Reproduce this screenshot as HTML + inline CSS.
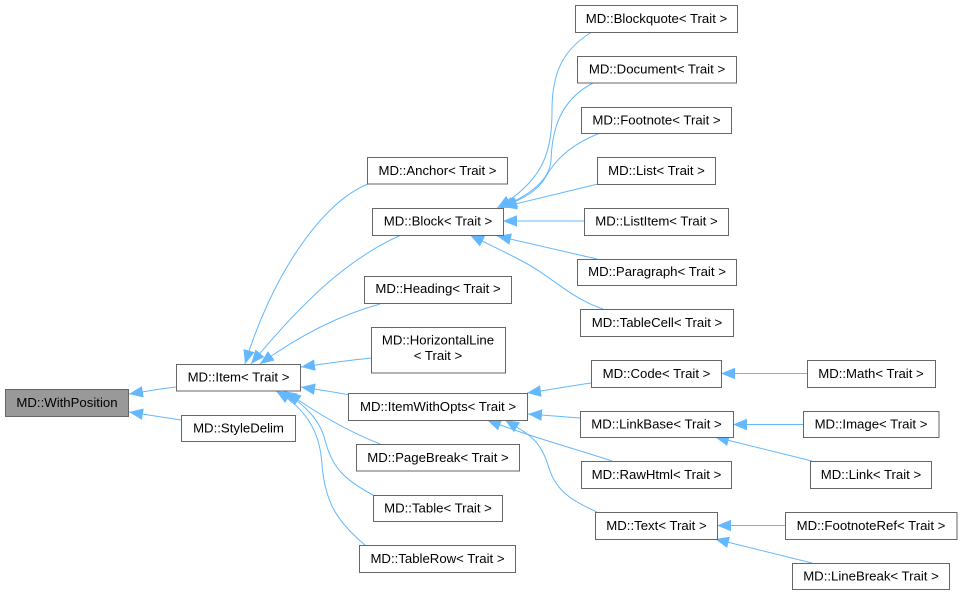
<!DOCTYPE html>
<html><head><meta charset="utf-8"><style>
html,body{margin:0;padding:0;background:#fff;width:961px;height:595px;overflow:hidden}
svg{display:block}
text{font-family:"Liberation Sans",sans-serif;font-size:13.2px;fill:#000;text-anchor:middle}
.b{fill:#fff;stroke:#666;stroke-width:1}
.e{fill:none;stroke:#63b8ff;stroke-width:1;marker-end:url(#a)}
</style></head><body>
<svg width="961" height="595" viewBox="0 0 961 595" xmlns="http://www.w3.org/2000/svg">
<defs><marker id="a" markerUnits="userSpaceOnUse" markerWidth="14" markerHeight="12" viewBox="0 0 14 12" refX="14" refY="6" orient="auto"><path d="M0 0.2L14 6L0 11.8Z" fill="#63b8ff"/></marker></defs>
<path class="e" d="M176 387C165 388 155 390 129 394"/>
<path class="e" d="M181 420L129 412"/>
<path class="e" d="M368 184C320 203 270 280 245 364"/>
<path class="e" d="M401 235C345 260 300 305 251 364"/>
<path class="e" d="M380 304C340 315 300 335 260 364"/>
<path class="e" d="M372 358C350 360 330 363 301 367"/>
<path class="e" d="M350 395C335 392 320 390 301 387"/>
<path class="e" d="M380 444C350 432 320 416 287 392"/>
<path class="e" d="M373 495C345 480 332 468 325 440C320 420 305 405 283 391"/>
<path class="e" d="M365 545C335 520 325 500 322 465C320 430 305 408 276 391"/>
<path class="e" d="M592 32C565 48 552 70 552 110C552 150 545 180 497 208"/>
<path class="e" d="M593 83C560 100 552 130 551 160C550 180 530 195 500 208"/>
<path class="e" d="M600 133C570 145 555 160 545 178C538 190 525 198 503 207"/>
<path class="e" d="M598 184L503 207"/>
<path class="e" d="M584 221L503 221"/>
<path class="e" d="M597 259L497 236"/>
<path class="e" d="M603 309C570 298 550 275 520 260C505 252 490 245 470 235"/>
<path class="e" d="M591 383C570 386 555 389 527 393"/>
<path class="e" d="M580 418L528 414"/>
<path class="e" d="M612 461C570 447 540 440 487 420"/>
<path class="e" d="M597 512C570 500 555 490 548 465C540 440 530 435 505 420"/>
<path class="e" d="M807 373.5L721 373.5"/>
<path class="e" d="M803 424.5L733 424.5"/>
<path class="e" d="M812 461L715 437"/>
<path class="e" d="M785 525.5L717 525.5"/>
<path class="e" d="M812 563L715 539"/>
<rect x="5.500" y="389.500" width="123" height="27" fill="#999" stroke="#666"/><text x="67" y="407">MD::WithPosition</text>
<rect class="b" x="176.500" y="364.500" width="124" height="26.500"/><text x="238.500" y="381.500">MD::Item&lt; Trait &gt;</text>
<rect class="b" x="181.500" y="415.500" width="114" height="26"/><text x="238.500" y="432.500">MD::StyleDelim</text>
<rect class="b" x="367.500" y="157.500" width="140" height="26.500"/><text x="437.500" y="175">MD::Anchor&lt; Trait &gt;</text>
<rect class="b" x="372.500" y="208.500" width="131" height="27"/><text x="438" y="225.500">MD::Block&lt; Trait &gt;</text>
<rect class="b" x="364.500" y="276.500" width="147" height="27"/><text x="438" y="293">MD::Heading&lt; Trait &gt;</text>
<rect class="b" x="371.500" y="327.500" width="134" height="45.500"/><text x="438" y="344.500">MD::HorizontalLine</text><text x="438" y="360">&lt; Trait &gt;</text>
<rect class="b" x="348.500" y="393.500" width="179" height="27"/><text x="438" y="411">MD::ItemWithOpts&lt; Trait &gt;</text>
<rect class="b" x="356.500" y="444.500" width="163" height="26.500"/><text x="438" y="462">MD::PageBreak&lt; Trait &gt;</text>
<rect class="b" x="373.500" y="495.500" width="129" height="26"/><text x="438" y="512.500">MD::Table&lt; Trait &gt;</text>
<rect class="b" x="359.500" y="545.500" width="156" height="27"/><text x="437.500" y="563">MD::TableRow&lt; Trait &gt;</text>
<rect class="b" x="575.500" y="5.500" width="162" height="27"/><text x="656.500" y="23">MD::Blockquote&lt; Trait &gt;</text>
<rect class="b" x="577.500" y="56.500" width="159" height="26.500"/><text x="657" y="73.500">MD::Document&lt; Trait &gt;</text>
<rect class="b" x="581.500" y="107.500" width="150" height="26"/><text x="656.500" y="124.500">MD::Footnote&lt; Trait &gt;</text>
<rect class="b" x="597.500" y="157.500" width="118" height="27"/><text x="656.500" y="175">MD::List&lt; Trait &gt;</text>
<rect class="b" x="584.500" y="208.500" width="144" height="27"/><text x="656.500" y="225.500">MD::ListItem&lt; Trait &gt;</text>
<rect class="b" x="577.500" y="259.500" width="159" height="26"/><text x="657" y="276">MD::Paragraph&lt; Trait &gt;</text>
<rect class="b" x="580.500" y="309.500" width="153" height="27"/><text x="657" y="327">MD::TableCell&lt; Trait &gt;</text>
<rect class="b" x="591.500" y="360.500" width="130" height="27"/><text x="656.500" y="378">MD::Code&lt; Trait &gt;</text>
<rect class="b" x="580.500" y="411.500" width="153" height="26"/><text x="656.500" y="428.500">MD::LinkBase&lt; Trait &gt;</text>
<rect class="b" x="581.500" y="461.500" width="150" height="27"/><text x="656.500" y="479">MD::RawHtml&lt; Trait &gt;</text>
<rect class="b" x="595.500" y="512.500" width="122" height="27"/><text x="656.500" y="530">MD::Text&lt; Trait &gt;</text>
<rect class="b" x="807.500" y="360.500" width="128" height="27"/><text x="871" y="378">MD::Math&lt; Trait &gt;</text>
<rect class="b" x="803.500" y="411.500" width="135.500" height="26"/><text x="871" y="428.500">MD::Image&lt; Trait &gt;</text>
<rect class="b" x="810.500" y="461.500" width="121" height="27"/><text x="871" y="479">MD::Link&lt; Trait &gt;</text>
<rect class="b" x="785.500" y="512.500" width="171.500" height="27"/><text x="871" y="530">MD::FootnoteRef&lt; Trait &gt;</text>
<rect class="b" x="792.500" y="563.500" width="157" height="26"/><text x="871" y="580.500">MD::LineBreak&lt; Trait &gt;</text>
</svg>
</body></html>
